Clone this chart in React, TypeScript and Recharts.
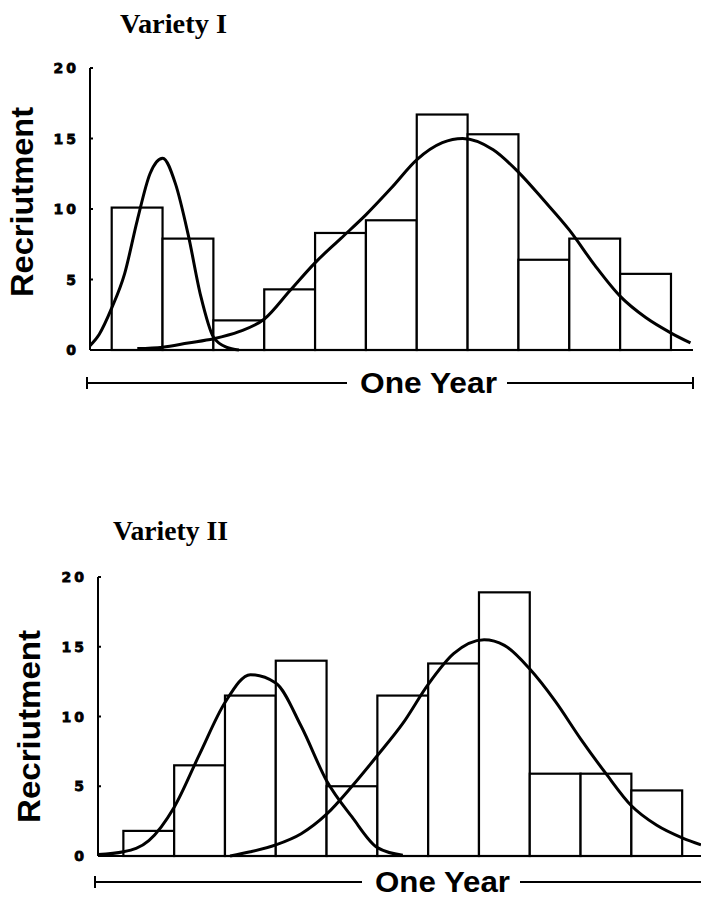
import { Bar, ComposedChart, Label, Line, XAxis, YAxis } from 'recharts';

// bins along the year (bin centres) and the y ticks
const bins = [1, 2, 3, 4, 5, 6, 7, 8, 9, 10, 11];
const yTicks = [0, 5, 10, 15, 20];

// histogram heights
const variety1Counts = [10.1, 7.9, 2.1, 4.3, 8.3, 9.2, 16.7, 15.3, 6.4, 7.9, 5.4];
const variety2Counts = [1.8, 6.5, 11.5, 14.0, 5.0, 11.5, 13.8, 18.9, 5.9, 5.9, 4.7];

// fitted curves, sampled by eye (x in bin units)
const v1EarlyX = [0.07, 0.25, 0.5, 0.75, 1, 1.25, 1.5, 1.75, 2, 2.25, 2.5, 2.75, 3];
const v1EarlyY = [0.3, 1.1, 3.0, 5.4, 9.2, 12.5, 13.6, 11.8, 8.2, 3.8, 0.9, 0.2, 0];
const v1LateX = [1, 1.5, 2, 2.5, 3, 3.5, 4, 4.5, 5, 5.5, 6, 6.5, 7, 7.4, 8, 8.5, 9, 9.5, 10, 10.5, 11, 11.5, 11.88];
const v1LateY = [0.1, 0.2, 0.5, 0.8, 1.3, 2.2, 4.2, 6.2, 7.9, 9.6, 11.5, 13.5, 14.7, 15.0, 14.2, 12.6, 10.6, 8.5, 6.0, 3.8, 2.3, 1.2, 0.5];

const v2EarlyX = [0, 0.5, 1, 1.5, 2, 2.5, 3, 3.5, 4, 4.5, 5, 5.5, 6];
const v2EarlyY = [0.1, 0.3, 1.1, 3.5, 7.3, 11.0, 13.0, 12.4, 9.3, 5.4, 2.8, 0.6, 0.05];
const v2LateX = [2.6, 3, 3.5, 4, 4.5, 5, 5.5, 6, 6.5, 7, 7.6, 8, 8.5, 9, 9.5, 10, 10.5, 11, 11.5, 11.87];
const v2LateY = [0, 0.3, 0.8, 1.6, 3.0, 5.0, 7.2, 9.5, 12.3, 14.5, 15.5, 15.1, 13.4, 11.1, 8.4, 5.9, 3.6, 2.2, 1.3, 0.8];

const PAGE_W = 701;
const PAGE_H = 899;

const toPoints = (xs: number[], ys: number[]) => xs.map((u, i) => ({ u, v: ys[i] }));
const toBars = (counts: number[]) => bins.map((u, i) => ({ u, n: counts[i] }));

const YTick = (props: any) => {
  const { x, y, payload } = props;
  return (
    <g>
      <text
        x={x}
        y={y}
        dy={5}
        textAnchor="end"
        fontFamily="DejaVu Sans"
        fontWeight="bold"
        fontSize={14}
        letterSpacing={3}
        stroke="#000"
        strokeWidth={0.8}
        fill="#000"
      >
        {payload.value}
      </text>
      <line x1={x + 11} x2={x + 14} y1={y} y2={y} stroke="#000" strokeWidth={2} />
    </g>
  );
};

interface PanelProps {
  top: number;
  height: number;
  margin: { top: number; right: number; bottom: number; left: number };
  axisWidth: number;
  xAxisHeight: number;
  domain: [number, number];
  counts: number[];
  curves: Array<Array<{ u: number; v: number }>>;
  yLabel: { x: number; dy: number; length: number };
  year: { start: number; width: number; offset: number; rightCap: boolean };
}

function Panel({ top, height, margin, axisWidth, xAxisHeight, domain, counts, curves, yLabel, year }: PanelProps) {
  const plotW = PAGE_W - margin.left - margin.right - axisWidth;
  const binW = plotW / (domain[1] - domain[0]);

  // recharts shrinks the band because of the dense curve data, so widen each bar back to one bin
  const BinBar = (p: any) => {
    const { x, y, width, height: h } = p;
    const cx = x + width / 2;
    return <rect x={cx - binW / 2} y={y} width={binW} height={h} fill="#fff" stroke="#000" strokeWidth={2.2} />;
  };

  const renderYear = (p: any) => {
    const { x, y, width } = p.viewBox;
    const ly = y + year.offset;
    const textEnd = x + year.start + year.width;
    return (
      <g>
        <line x1={x - 3} x2={x + year.start - 13} y1={ly} y2={ly} stroke="#000" strokeWidth={2} />
        <line x1={x - 3} x2={x - 3} y1={ly - 6} y2={ly + 6} stroke="#000" strokeWidth={2} />
        <text
          x={x + year.start}
          y={ly + 10}
          fontFamily="Liberation Sans"
          fontWeight="bold"
          fontSize={29}
          textLength={year.width}
          lengthAdjust="spacingAndGlyphs"
          fill="#000"
        >
          One Year
        </text>
        <line x1={textEnd + 10} x2={x + width} y1={ly} y2={ly} stroke="#000" strokeWidth={2} />
        {year.rightCap && (
          <line x1={x + width} x2={x + width} y1={ly - 6} y2={ly + 6} stroke="#000" strokeWidth={2} />
        )}
      </g>
    );
  };

  const renderRecruit = (p: any) => {
    const { x, y, height: h } = p.viewBox;
    const cx = x + yLabel.x;
    const cy = y + h / 2 + yLabel.dy;
    return (
      <text
        x={cx}
        y={cy}
        transform={`rotate(-90 ${cx} ${cy})`}
        textAnchor="middle"
        fontFamily="Liberation Sans"
        fontWeight="bold"
        fontSize={32}
        textLength={yLabel.length}
        lengthAdjust="spacingAndGlyphs"
        fill="#000"
      >
        Recriutment
      </text>
    );
  };

  return (
    <div style={{ position: 'absolute', left: 0, top }}>
      <ComposedChart width={PAGE_W} height={height} data={toBars(counts)} margin={margin}>
        <XAxis
          type="number"
          dataKey="u"
          domain={domain}
          allowDataOverflow
          height={xAxisHeight}
          tick={false}
          tickLine={false}
          axisLine={{ stroke: '#000', strokeWidth: 2 }}
        >
          <Label content={renderYear} />
        </XAxis>
        <YAxis
          width={axisWidth}
          domain={[0, 20]}
          ticks={yTicks}
          interval={0}
          tickLine={false}
          tickSize={0}
          tickMargin={11}
          tick={<YTick />}
          axisLine={{ stroke: '#000', strokeWidth: 2 }}
        >
          <Label content={renderRecruit} />
        </YAxis>
        <Bar dataKey="n" shape={<BinBar />} isAnimationActive={false} />
        {curves.map((pts, i) => (
          <Line
            key={i}
            data={pts}
            dataKey="v"
            type="monotone"
            stroke="#000"
            strokeWidth={3}
            dot={false}
            activeDot={false}
            isAnimationActive={false}
          />
        ))}
      </ComposedChart>
    </div>
  );
}

export default function App() {
  return (
    <div
      style={{
        position: 'absolute',
        left: 0,
        top: 0,
        width: PAGE_W,
        height: PAGE_H,
        overflow: 'hidden',
        background: '#fff',
      }}
    >
      <Panel
        top={0}
        height={400}
        margin={{ top: 68, right: 8, bottom: 5, left: 0 }}
        axisWidth={90}
        xAxisHeight={45}
        domain={[0.07, 11.93]}
        counts={variety1Counts}
        curves={[toPoints(v1EarlyX, v1EarlyY), toPoints(v1LateX, v1LateY)]}
        yLabel={{ x: 33, dy: -7, length: 190 }}
        year={{ start: 270, width: 137, offset: 33, rightCap: true }}
      />
      <Panel
        top={440}
        height={459}
        margin={{ top: 137, right: 0, bottom: 3, left: 0 }}
        axisWidth={98}
        xAxisHeight={40}
        domain={[0, 11.87]}
        counts={variety2Counts}
        curves={[toPoints(v2EarlyX, v2EarlyY), toPoints(v2LateX, v2LateY)]}
        yLabel={{ x: 40, dy: 10, length: 193 }}
        year={{ start: 277, width: 135, offset: 26, rightCap: false }}
      />
      <svg
        width={PAGE_W}
        height={PAGE_H}
        style={{ position: 'absolute', left: 0, top: 0, pointerEvents: 'none' }}
      >
        <text
          x={120}
          y={33}
          fontFamily="Liberation Serif"
          fontWeight="bold"
          fontSize={28}
          textLength={107}
          lengthAdjust="spacingAndGlyphs"
          fill="#000"
        >
          Variety I
        </text>
        <text
          x={113}
          y={540}
          fontFamily="Liberation Serif"
          fontWeight="bold"
          fontSize={28}
          textLength={115}
          lengthAdjust="spacingAndGlyphs"
          fill="#000"
        >
          Variety II
        </text>
      </svg>
    </div>
  );
}
